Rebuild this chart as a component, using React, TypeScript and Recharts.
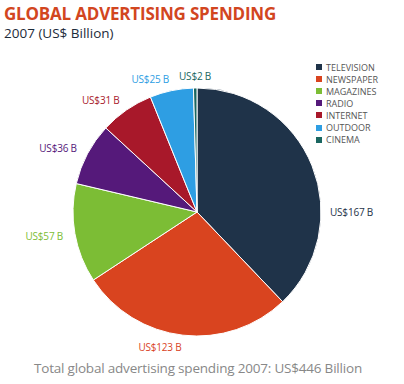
import { Cell, Pie, PieChart } from 'recharts'

const categories = ['TELEVISION', 'NEWSPAPER', 'MAGAZINES', 'RADIO', 'INTERNET', 'OUTDOOR', 'CINEMA']
const spending = [167, 123, 57, 36, 31, 25, 2]
const colors = ['#1f3349', '#d9441f', '#7cbd35', '#55197a', '#a8182a', '#2e9ee3', '#1a6660']

const data = categories.map((name, i) => ({ name, value: spending[i] }))

const font = "'Open Sans', 'Noto Sans', sans-serif"
const RAD = Math.PI / 180

const renderLabel = (props: any) => {
  const { cx, cy, midAngle, outerRadius, index, value } = props
  // the big TV slice has its label straight to the right in the original
  const angle = index === 0 ? 0 : midAngle
  const r = outerRadius + (index === 0 ? 9 : 12)
  const cos = Math.cos(-angle * RAD)
  const x = cx + r * cos
  const y = cy + r * Math.sin(-angle * RAD)
  const anchor = Math.abs(cos) < 0.1 ? 'middle' : cos > 0 ? 'start' : 'end'
  return (
    <text
      x={x}
      y={y}
      fill={colors[index]}
      textAnchor={anchor}
      dominantBaseline='central'
      fontSize={10}
      fontFamily={font}
      letterSpacing={-0.2}
    >
      {`US$${value} B`}
    </text>
  )
}

export default function App() {
  return (
    <div style={{ position: 'absolute', left: 0, top: 0, width: 404, height: 384, background: '#fff' }}>
      <div
        style={{
          position: 'absolute',
          left: 4,
          top: 2,
          fontFamily: font,
          fontWeight: 700,
          fontSize: 17,
          color: '#d2461f',
          letterSpacing: -0.2,
        }}
      >
        GLOBAL ADVERTISING SPENDING
      </div>
      <div style={{ position: 'absolute', left: 4, top: 24, fontFamily: font, fontSize: 13.5, color: '#1d2b3a' }}>
        2007 (US$ Billion)
      </div>
      <PieChart
        width={404}
        height={384}
        margin={{ top: 0, right: 0, bottom: 0, left: 0 }}
        style={{ position: 'absolute', left: 0, top: 0 }}
      >
        <Pie
          data={data}
          dataKey='value'
          nameKey='name'
          cx={197}
          cy={212}
          outerRadius={124}
          startAngle={90}
          endAngle={-270}
          stroke='#fff'
          strokeWidth={1}
          label={renderLabel}
          labelLine={false}
          isAnimationActive={false}
        >
          {data.map((d, i) => (
            <Cell key={d.name} fill={colors[i]} />
          ))}
        </Pie>
      </PieChart>
      <div style={{ position: 'absolute', left: 316, top: 61, fontFamily: font, fontSize: 9, color: '#555' }}>
        {categories.map((name, i) => (
          <div key={name} style={{ display: 'flex', alignItems: 'center', height: 12.1 }}>
            <span style={{ width: 6, height: 6, background: colors[i], marginRight: 4 }} />
            {name}
          </div>
        ))}
      </div>
      <div
        style={{
          position: 'absolute',
          left: 0,
          width: 396,
          top: 359,
          textAlign: 'center',
          fontFamily: font,
          fontSize: 13.5,
          color: '#888',
          letterSpacing: -0.2,
        }}
      >
        Total global advertising spending 2007: US$446 Billion
      </div>
    </div>
  )
}
